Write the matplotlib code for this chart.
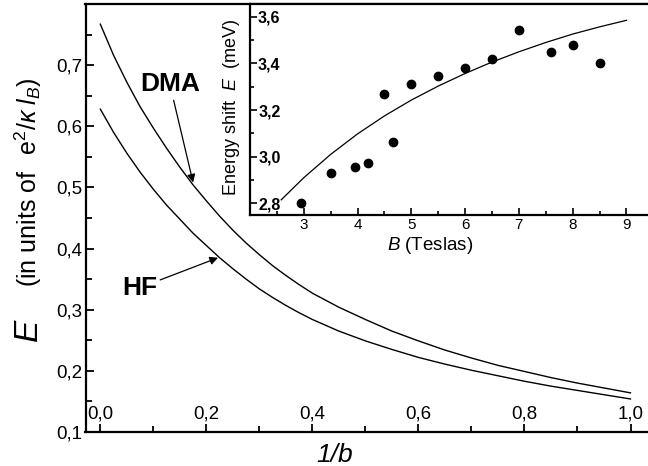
import numpy as np
import matplotlib
matplotlib.use("Agg")
import matplotlib.pyplot as plt
from matplotlib.ticker import FuncFormatter, FixedLocator

plt.rcParams['font.family'] = ['Liberation Sans', 'DejaVu Sans']
plt.rcParams['mathtext.fontset'] = 'custom'
plt.rcParams['mathtext.rm'] = 'Liberation Sans'
plt.rcParams['mathtext.it'] = 'Liberation Sans:italic'
plt.rcParams['mathtext.bf'] = 'Liberation Sans:bold'

# main panel: energy vs 1/b
inv_b = [0.0, 0.025, 0.05, 0.075, 0.1, 0.125, 0.15, 0.175, 0.2, 0.225, 0.25, 0.275, 0.3,
         0.325, 0.35, 0.375, 0.4, 0.45, 0.5, 0.55, 0.6, 0.65, 0.7, 0.75, 0.8, 0.85, 0.9, 0.95, 1.0]
E_dma = [0.767, 0.716, 0.672, 0.632, 0.597, 0.564, 0.533, 0.504, 0.478, 0.453, 0.430, 0.409, 0.390,
         0.372, 0.356, 0.341, 0.327, 0.304, 0.284, 0.265, 0.249, 0.234, 0.221, 0.209, 0.199, 0.189,
         0.180, 0.172, 0.164]
E_hf = [0.628, 0.590, 0.556, 0.525, 0.497, 0.471, 0.448, 0.425, 0.405, 0.385, 0.367, 0.350, 0.334,
        0.320, 0.307, 0.295, 0.284, 0.265, 0.249, 0.235, 0.222, 0.211, 0.201, 0.192, 0.183, 0.175,
        0.168, 0.161, 0.154]

# inset: energy shift vs B
B_fit = [2.58, 3.0, 3.5, 4.0, 4.5, 5.0, 5.5, 6.0, 6.5, 7.0, 7.5, 8.0, 8.5, 9.0]
E_fit = [2.815, 2.91, 3.01, 3.098, 3.175, 3.243, 3.303, 3.357, 3.406, 3.45, 3.49, 3.526, 3.557, 3.585]
B_exp = [2.95, 3.5, 3.95, 4.2, 4.5, 4.65, 5.0, 5.5, 6.0, 6.5, 7.0, 7.6, 8.0, 8.5]
E_exp = [2.80, 2.93, 2.955, 2.975, 3.27, 3.065, 3.31, 3.345, 3.38, 3.42, 3.545, 3.45, 3.48, 3.40]

comma = FuncFormatter(lambda v, p: f"{v:.1f}".replace('.', ','))

W, H = 648, 466
fig = plt.figure(figsize=(W / 100, H / 100), dpi=100)

# main axes (right side cropped in the reference)
ax = fig.add_axes([85.5 / W, (H - 432) / H, (W - 85.5) / W, (432 - 4) / H])
ax.plot(inv_b, E_dma, color='black', lw=1.0)
ax.plot(inv_b, E_hf, color='black', lw=1.0)
ax.set_xlim(-0.028, 1.033)
ax.set_ylim(0.1, 0.8)
ax.xaxis.set_major_locator(FixedLocator([0.0, 0.2, 0.4, 0.6, 0.8, 1.0]))
ax.xaxis.set_minor_locator(FixedLocator([0.1, 0.3, 0.5, 0.7, 0.9]))
ax.yaxis.set_major_locator(FixedLocator([0.1, 0.2, 0.3, 0.4, 0.5, 0.6, 0.7]))
ax.yaxis.set_minor_locator(FixedLocator([0.15, 0.25, 0.35, 0.45, 0.55, 0.65, 0.75]))
ax.xaxis.set_major_formatter(comma)
ax.yaxis.set_major_formatter(comma)
ax.tick_params(which='both', direction='in', width=1.3, labelsize=13.5)
ax.tick_params(which='major', length=6)
ax.tick_params(which='minor', length=4)
ax.tick_params(axis='x', which='major', pad=-19)
ax.tick_params(axis='y', which='major', pad=2.5)
ax.spines['right'].set_visible(False)
for s in ['left', 'bottom', 'top']:
    ax.spines[s].set_linewidth(1.6)

ax.annotate('DMA', xy=(0.175, 0.508), xytext=(0.131, 0.669), fontsize=19, fontweight='bold',
            ha='center', va='center',
            arrowprops=dict(arrowstyle='-|>', color='black', lw=0.9, mutation_scale=12,
                            shrinkA=1, shrinkB=0))
ax.annotate('HF', xy=(0.222, 0.385), xytext=(0.0745, 0.336), fontsize=19, fontweight='bold',
            ha='center', va='center',
            arrowprops=dict(arrowstyle='-|>', color='black', lw=0.9, mutation_scale=12,
                            shrinkA=0, shrinkB=0))

fig.text(335 / W, 1 - 455 / H, '1/b', fontsize=19, style='italic', ha='center', va='center')
fig.text(28 / W, 1 - 330 / H, 'E', fontsize=24, style='italic', rotation=90, ha='center', va='center')
fig.text(28 / W, 1 - 182 / H, r'(in units of  $\,\mathrm{e}^2/\kappa\;l_B$)', fontsize=18,
         rotation=90, ha='center', va='center')

# inset
ins = fig.add_axes([250 / W, (H - 215) / H, (W - 250) / W, (215 - 4) / H])
ins.set_facecolor('white')
ins.plot(B_fit, E_fit, color='black', lw=0.9)
ins.plot(B_exp, E_exp, 'o', color='black', ms=6)
ins.set_xlim(2.0, 9.4)
ins.set_ylim(2.75, 3.655)
ins.xaxis.set_major_locator(FixedLocator([3, 4, 5, 6, 7, 8, 9]))
ins.xaxis.set_minor_locator(FixedLocator([2.5, 3.5, 4.5, 5.5, 6.5, 7.5, 8.5]))
ins.yaxis.set_major_locator(FixedLocator([2.8, 3.0, 3.2, 3.4, 3.6]))
ins.yaxis.set_minor_locator(FixedLocator([2.9, 3.1, 3.3, 3.5]))
ins.yaxis.set_major_formatter(comma)
ins.tick_params(which='both', direction='in', width=1.2, labelsize=11.5)
ins.tick_params(axis='x', labelsize=11)
ins.tick_params(which='major', length=5)
ins.tick_params(which='minor', length=3)
ins.tick_params(axis='x', which='major', pad=2)
ins.tick_params(axis='y', which='major', pad=-22)
for lab in ins.get_yticklabels():
    lab.set_fontweight('bold')
ins.spines['right'].set_visible(False)
for s in ['left', 'bottom', 'top']:
    ins.spines[s].set_linewidth(1.6)

fig.text(430 / W, 1 - 246 / H, r'$B$ (Teslas)', fontsize=13.5, ha='center', va='center')
fig.text(232 / W, 1 - 108 / H, r'Energy shift  $E$  (meV)', fontsize=13, rotation=90,
         ha='center', va='center')

fig.savefig('out.png', dpi=100)
